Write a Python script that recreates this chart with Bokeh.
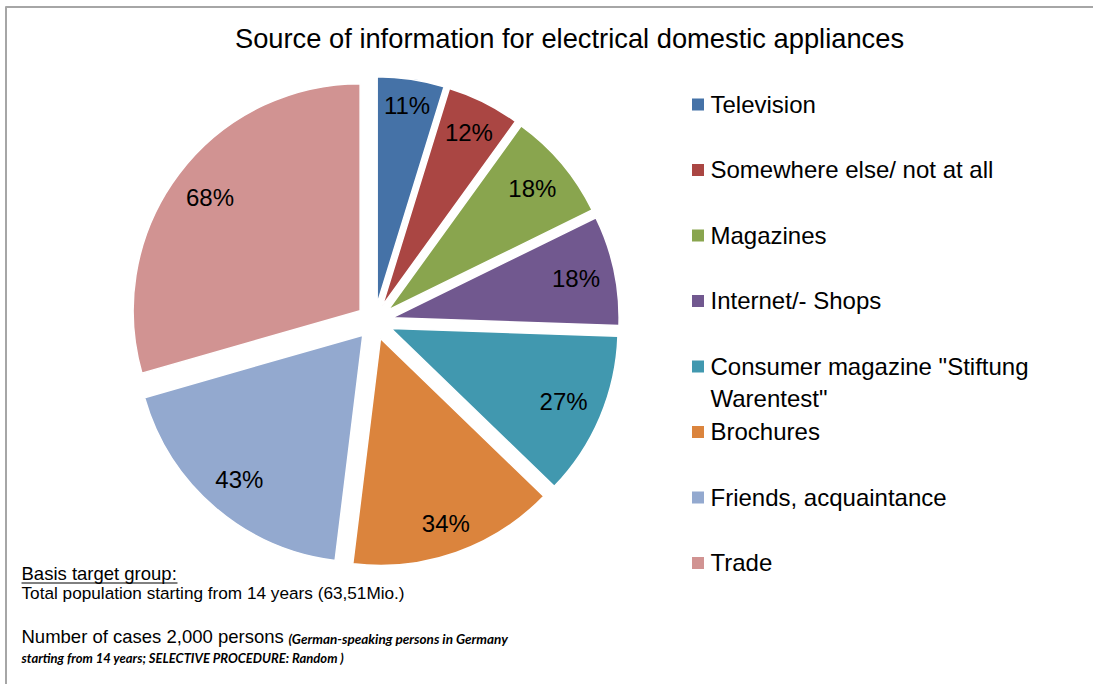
import math
from bokeh.plotting import figure
from bokeh.models import Range1d
from bokeh.core.properties import value
from bokeh.embed import file_html
from bokeh.resources import INLINE

# ---- data ----
categories = ["Television", "Somewhere else/ not at all", "Magazines", "Internet/- Shops",
              "Consumer magazine \"Stiftung\nWarentest\"", "Brochures",
              "Friends, acquaintance", "Trade"]
percents = [11, 12, 18, 18, 27, 34, 43, 68]
colors = ["#4572A7", "#AA4643", "#89A54E", "#71588F", "#4198AF", "#DB843D", "#93A9CF", "#D19392"]
title_text = "Source of information for electrical domestic appliances"
note_head = "Basis target group:"
note_line1 = "Total population starting from 14 years (63,51Mio.)"
note_line2 = "Number of cases 2,000 persons"
note_small1 = "(German-speaking persons in Germany"
note_small2 = "starting from 14 years; SELECTIVE PROCEDURE: Random )"

W, H = 1093, 684
FONT = "Liberation Sans"

p = figure(width=W, height=H, output_backend="svg", toolbar_location=None,
           x_range=Range1d(0, W), y_range=Range1d(0, H), min_border=0)
p.axis.visible = False
p.grid.visible = False
p.outline_line_color = None
p.background_fill_color = "white"
p.border_fill_color = "white"

def Y(py):
    return H - py

# frame (top and left edges)
p.line([5, W], [Y(6.5), Y(6.5)], line_color="#A6A6A6", line_width=2)
p.line([5.5, 5.5], [Y(6), Y(H)], line_color="#A6A6A6", line_width=2)

# title
p.text(x=[569], y=[Y(38)], text=[title_text], text_font=value(FONT), text_font_size="27.3px",
       text_align="center", text_baseline="middle", text_color="#000000")

# ---- pie ----
cx, cy, R, d = 374, Y(321), 227, 18
hw, hh, inner_edge = 26, 12, 216   # label box half-size and "inside end" limit
total = sum(percents)
xs, ys, starts, ends, lx, ly, labels = [], [], [], [], [], [], []
acc = 0.0
for v in percents:
    a0 = acc / total * 2 * math.pi
    acc += v
    a1 = acc / total * 2 * math.pi
    mid = (a0 + a1) / 2
    sx, sy = math.sin(mid), math.cos(mid)
    ox = cx + d * sx
    oy = cy + d * sy
    xs.append(ox); ys.append(oy)
    starts.append(math.pi / 2 - a0)
    ends.append(math.pi / 2 - a1)
    lr = inner_edge - (hw * abs(sx) + hh * abs(sy))
    lx.append(ox + lr * sx)
    ly.append(oy + lr * sy)
    labels.append(f"{v}%")

p.wedge(x=xs, y=ys, radius=R, start_angle=starts, end_angle=ends, direction="clock",
        fill_color=colors, line_color="white", line_width=1.5)
p.text(x=lx, y=ly, text=labels, text_font=value(FONT), text_font_size="24px",
       text_align="center", text_baseline="middle", text_color="#000000")

# ---- legend ----
row0, step = 104, 65.5
sq_x, sq_y, tx, ty = [], [], [], []
for i, c in enumerate(categories):
    yc = row0 + step * i
    sq_x.append(697.5); sq_y.append(Y(yc))
    tx.append(710); ty.append(Y(yc - 14))
p.rect(x=sq_x, y=sq_y, width=12, height=12, fill_color=colors, line_color=None)
p.text(x=tx, y=ty, text=categories, text_font=value(FONT), text_font_size="24px",
       text_align="left", text_baseline="top", text_color="#000000", text_line_height=1.2)

# ---- notes ----
p.text(x=[21], y=[Y(573)], text=[note_head], text_font=value(FONT), text_font_size="18.5px",
       text_baseline="middle", text_color="#000000")
p.line([21, 177], [Y(582.5), Y(582.5)], line_color="#000000", line_width=1)
p.text(x=[21], y=[Y(592)], text=[note_line1], text_font=value(FONT), text_font_size="17.2px",
       text_baseline="middle", text_color="#000000")
p.text(x=[21], y=[Y(636)], text=[note_line2], text_font=value(FONT), text_font_size="18.5px",
       text_baseline="middle", text_color="#000000")
p.text(x=[288], y=[Y(638)], text=[note_small1], text_font=value("Lato"), text_font_size="13.5px",
       text_font_style="bold italic", text_baseline="middle", text_color="#000000")
p.text(x=[21], y=[Y(657)], text=[note_small2], text_font=value("Lato"), text_font_size="13px",
       text_font_style="bold italic", text_baseline="middle", text_color="#000000")

open("out.html", "w").write(file_html(p, INLINE))
